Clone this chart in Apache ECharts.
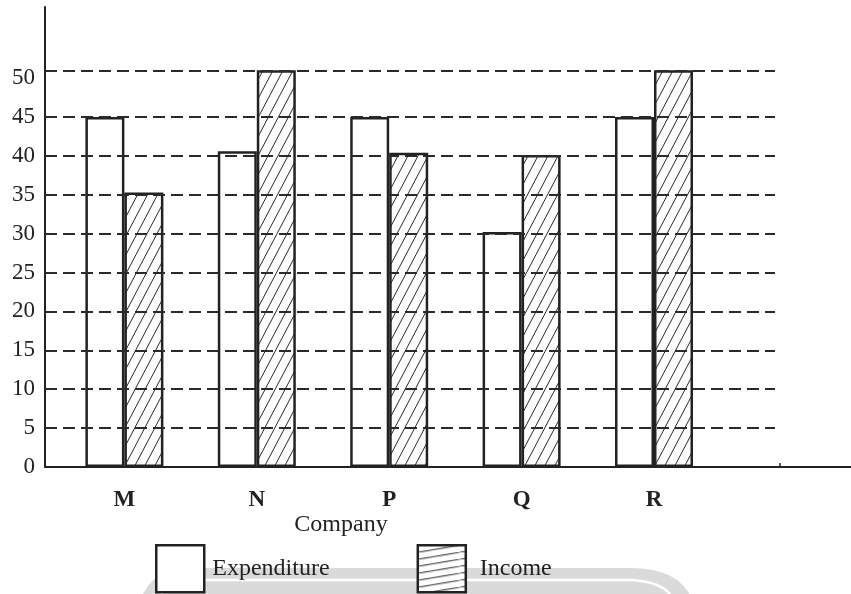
<!DOCTYPE html>
<html>
<head>
<meta charset="utf-8">
<script src="https://cdn.jsdelivr.net/npm/echarts@6/dist/echarts.min.js"></script>
<style>
  html, body { margin: 0; padding: 0; background: #ffffff; }
  #chart { width: 851px; height: 594px; }
</style>
</head>
<body>
<div id="chart"></div>
<script>
// Expenditure and income per company (in crores)
const categories = ['M', 'N', 'P', 'Q', 'R'];
const expenditure = [45, 40.6, 45, 30.2, 45];
const income = [35.3, 51, 40.4, 40.1, 51];
const yTickLabels = [0, 5, 10, 15, 20, 25, 30, 35, 40, 45, 50];
const guideLevels = [5, 10, 15, 20, 25, 30, 35, 40, 45, 51];

const SERIF = '"Liberation Serif", "Times New Roman", serif';
const INK = '#222222';

// Diagonal hatch tile: one line from bottom-left to top-right per tile
function hatchTile(w, h, lineW) {
  const c = document.createElement('canvas');
  c.width = w; c.height = h;
  const g = c.getContext('2d');
  g.fillStyle = '#fefefe';
  g.fillRect(0, 0, w, h);
  g.strokeStyle = '#2a2a2a';
  g.lineWidth = lineW;
  [-w, 0, w].forEach(function (dx) {
    g.beginPath();
    g.moveTo(dx, h);
    g.lineTo(dx + w, 0);
    g.stroke();
  });
  return c;
}
const barHatch = { image: hatchTile(10, 19, 1), repeat: 'repeat' };
const keyHatch = { image: hatchTile(42, 7, 1), repeat: 'repeat' };

// Points along a quadratic curve, used for the rounded backdrop band
function quad(p0, p1, p2, n) {
  const pts = [];
  for (let i = 0; i <= n; i++) {
    const t = i / n, u = 1 - t;
    pts.push([
      u * u * p0[0] + 2 * u * t * p1[0] + t * t * p2[0],
      u * u * p0[1] + 2 * u * t * p1[1] + t * t * p2[1]
    ]);
  }
  return pts;
}
const bandOuter = quad([141, 600], [150, 568], [196, 568], 16)
  .concat(quad([630, 568], [680, 568], [692, 600], 16));
const bandInner = quad([158, 600], [166, 580], [204, 580], 16)
  .concat(quad([626, 580], [664, 580], [674, 600], 16));

const YMAX = 59.14;
const GUIDE_END = 0.9057;

const chart = echarts.init(document.getElementById('chart'), null, { renderer: 'canvas' });

chart.setOption({
  animation: false,
  backgroundColor: '#ffffff',
  grid: [
    { left: 45, right: 0, top: 7, bottom: 127 },
    { left: 58.2, right: 130.8, top: 7, bottom: 127 }
  ],
  xAxis: [
    {
      gridIndex: 0, type: 'value', min: 0, max: 1,
      axisLine: { show: true, onZero: false, lineStyle: { color: INK, width: 2 } },
      axisTick: { show: true, inside: true, length: 4, customValues: [0.912], lineStyle: { color: INK, width: 1.5 } },
      axisLabel: { show: false },
      splitLine: { show: false }
    },
    {
      gridIndex: 1, type: 'category', data: categories,
      axisLine: { show: false },
      axisTick: { show: false },
      axisLabel: {
        margin: 22, color: INK, fontFamily: SERIF, fontWeight: 'bold', fontSize: 23
      }
    }
  ],
  yAxis: [
    {
      gridIndex: 0, type: 'value', min: 0, max: YMAX,
      axisLine: { show: true, lineStyle: { color: INK, width: 2 } },
      axisTick: { show: false },
      splitLine: { show: false },
      axisLabel: {
        customValues: yTickLabels,
        margin: 10, color: INK, fontFamily: SERIF, fontSize: 23,
        padding: [8, 0, 0, 0]
      }
    },
    {
      gridIndex: 1, type: 'value', min: 0, max: YMAX, show: false,
      splitLine: { show: false }
    }
  ],
  legend: {
    left: 155, top: 544, padding: 0,
    itemWidth: 48, itemHeight: 47, itemGap: 87,
    icon: 'rect',
    selectedMode: false,
    textStyle: { color: INK, fontFamily: SERIF, fontSize: 24, padding: [0, 0, 0, 3] },
    itemStyle: { borderColor: INK, borderWidth: 2 },
    data: [
      { name: 'Expenditure', itemStyle: { color: '#fefefe', borderColor: INK, borderWidth: 2.5 } },
      {
        name: 'Income',
        itemStyle: { color: keyHatch, borderColor: INK, borderWidth: 2.5 },
        textStyle: { padding: [0, 0, 0, 9] }
      }
    ]
  },
  graphic: [
    {
      type: 'polygon', z: -10, silent: true,
      shape: { points: bandOuter },
      style: { fill: '#dadada' }
    },
    {
      type: 'polyline', z: -9, silent: true,
      shape: { points: bandInner },
      style: { fill: null, stroke: '#ffffff', lineWidth: 2.5 }
    },
    {
      type: 'text', silent: true,
      style: {
        x: 341, y: 525, text: 'Company', textAlign: 'center', textVerticalAlign: 'middle',
        font: '24px ' + SERIF, fill: INK
      }
    }
  ],
  series: [
    {
      // dashed guide lines across the plot
      type: 'line', xAxisIndex: 0, yAxisIndex: 0, z: 1,
      data: [], symbol: 'none', silent: true,
      markLine: {
        silent: true, symbol: ['none', 'none'],
        label: { show: false },
        lineStyle: { type: [12, 6], color: '#2a2a2a', width: 2 },
        data: guideLevels.map(function (v) {
          return [{ coord: [0, v] }, { coord: [GUIDE_END, v] }];
        })
      }
    },
    {
      name: 'Expenditure', type: 'bar', xAxisIndex: 1, yAxisIndex: 1, z: 3,
      data: expenditure, barWidth: 39, barGap: '0%',
      itemStyle: { color: '#fefefe', borderColor: INK, borderWidth: 2.5 }
    },
    {
      name: 'Income', type: 'bar', xAxisIndex: 1, yAxisIndex: 1, z: 3,
      data: income, barWidth: 39, barGap: '0%',
      itemStyle: { color: barHatch, borderColor: INK, borderWidth: 2.5 }
    }
  ]
});
</script>
</body>
</html>
